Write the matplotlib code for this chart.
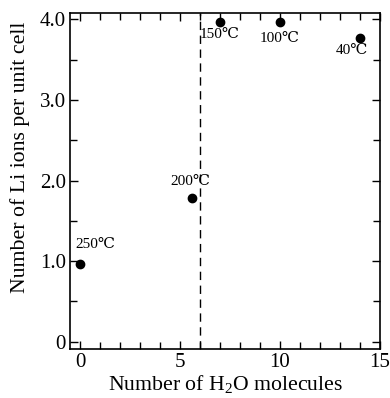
import matplotlib
matplotlib.use('Agg')
import matplotlib.pyplot as plt
from matplotlib.ticker import MultipleLocator, FixedLocator

plt.rcParams['font.family'] = ['Liberation Serif', 'DejaVu Serif']
plt.rcParams['mathtext.fontset'] = 'custom'
plt.rcParams['mathtext.rm'] = 'Liberation Serif'

# data
n_h2o = [0.0, 5.6, 7.0, 10.0, 14.0]
n_li = [0.96, 1.78, 3.97, 3.97, 3.77]
temps = ['250℃', '200℃', '150℃', '100℃', '40℃']
# label offsets (points) relative to each marker
offsets = [(11, 14), (-1, 12), (0, -9), (0, -12), (-6, -9)]
border_x = 6.0

fig = plt.figure(figsize=(3.9, 3.98), dpi=100)
ax = fig.add_axes([70 / 390, 1 - 349 / 398, 310 / 390, 336 / 398])

ax.plot(n_h2o, n_li, 'o', color='black', markersize=6)
ax.axvline(border_x, color='black', linestyle=(0, (6, 4)), lw=1)

for x, y, t, off in zip(n_h2o, n_li, temps, offsets):
    ax.annotate(t, (x, y), xytext=off, textcoords='offset points',
                ha='center', va='center', fontsize=11)

ax.set_xlim(-0.5, 15)
ax.set_ylim(-0.09, 4.08)
ax.xaxis.set_major_locator(FixedLocator([0, 5, 10, 15]))
ax.xaxis.set_minor_locator(MultipleLocator(1))
ax.yaxis.set_major_locator(FixedLocator([0, 1, 2, 3, 4]))
ax.yaxis.set_minor_locator(MultipleLocator(0.5))
ax.set_yticklabels(['0', '1.0', '2.0', '3.0', '4.0'])
ax.tick_params(which='both', direction='in', top=True, right=True, labelsize=15, width=1)
ax.tick_params(which='major', length=6, pad=3)
ax.tick_params(which='minor', length=5)
for s in ax.spines.values():
    s.set_linewidth(1.2)

ax.set_xlabel('Number of H$_2$O molecules', fontsize=15.7, labelpad=1)
ax.set_ylabel('Number of Li ions per unit cell', fontsize=15.7, labelpad=4)
ax.yaxis.set_label_coords(-0.128, 0.57)

fig.savefig('out.png', dpi=100)
